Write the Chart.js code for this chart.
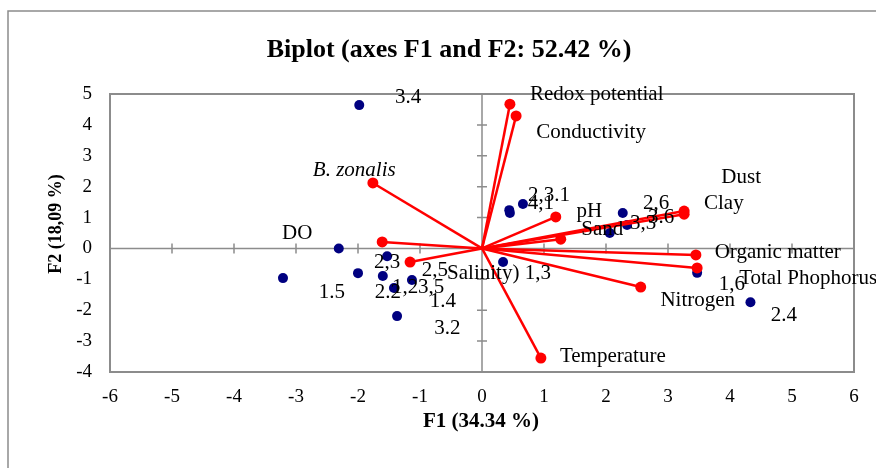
<!DOCTYPE html>
<html>
<head>
<meta charset="utf-8">
<script src="https://cdn.jsdelivr.net/npm/chart.js@4.4.1/dist/chart.umd.min.js"></script>
<style>
  html, body { margin: 0; padding: 0; background: #fff; }
  #wrap { width: 876px; height: 468px; }
</style>
</head>
<body>
<div id="wrap"><canvas id="biplot" width="876" height="468"></canvas></div>
<script>
// observations (blue dots)
const obsX = [-1.98, -2.31, -3.21, -2.00, -1.53, -1.60, -1.42, -1.13, -1.37, 0.34, 0.44, 0.45, 0.66, 2.27, 2.34, 2.06, 3.47, 4.33];
const obsY = [4.64, 0.00, -0.96, -0.80, -0.25, -0.89, -1.28, -1.02, -2.19, -0.44, 1.24, 1.15, 1.44, 1.15, 0.76, 0.50, -0.79, -1.74];

// variables (red vectors from the origin)
const varNames = ['Redox potential', 'Conductivity', 'B. zonalis', 'DO', 'Salinity', 'pH', 'Sand', 'Dust', 'Clay', 'Organic matter', 'Total Phophorus', 'Nitrogen', 'Temperature'];
const varX = [0.45, 0.55, -1.76, -1.61, -1.16, 1.19, 1.27, 3.26, 3.26, 3.45, 3.47, 2.56, 0.95];
const varY = [4.67, 4.29, 2.12, 0.21, -0.44, 1.02, 0.30, 1.21, 1.11, -0.21, -0.63, -1.25, -3.55];

// text labels as they sit on the plot (centre of text, in axis units)
const labelText = ['3.4', '1.5', '2,3', '2.2', '1,2', '3,5', '1.4', '2,5', '3.2', 'Salinity)', '1,3',
  '2,3.1', '4,1', 'pH', '2,6', '3,3', '3.6', 'Sand', 'Redox potential', 'Conductivity', 'Dust', 'Clay',
  'Organic matter', 'Total Phophorus', '1,6', 'Nitrogen', '2.4', 'Temperature', 'B. zonalis', 'DO'];
const labelX = [-1.19, -2.42, -1.53, -1.52, -1.24, -0.82, -0.63, -0.76, -0.56, 0.02, 0.90,
  1.08, 0.95, 1.73, 2.81, 2.60, 2.89, 1.94, 1.85, 1.76, 4.18, 3.90,
  4.77, 5.26, 4.03, 3.48, 4.87, 2.11, -2.06, -2.98];
const labelY = [4.89, -1.41, -0.44, -1.44, -1.25, -1.28, -1.73, -0.70, -2.58, -0.80, -0.80,
  1.73, 1.47, 1.21, 1.47, 0.82, 1.01, 0.60, 4.97, 3.77, 2.31, 1.47,
  -0.12, -0.96, -1.18, -1.67, -2.16, -3.51, 2.54, 0.50];

const xTicks = [-6, -5, -4, -3, -2, -1, 0, 1, 2, 3, 4, 5, 6];
const yTicks = [-4, -3, -2, -1, 0, 1, 2, 3, 4, 5];

const SERIF = "'Liberation Serif', 'Times New Roman', serif";
const GREY = '#8c8c8c';
const RED = '#ff0000';
const NAVY = '#000080';

const vectorSets = varNames.map((name, i) => ({
  type: 'line',
  label: name,
  data: [{ x: 0, y: 0 }, { x: varX[i], y: varY[i] }],
  borderColor: RED,
  backgroundColor: RED,
  borderWidth: 2.5,
  pointRadius: [0, 5.5],
  pointBorderWidth: 0,
  showLine: true,
  order: 0
}));

const biplotDecor = {
  id: 'biplotDecor',
  beforeDraw(chart) {
    const { ctx } = chart;
    ctx.save();
    ctx.strokeStyle = GREY;
    ctx.lineWidth = 1.5;
    ctx.beginPath();
    ctx.moveTo(8, 468);
    ctx.lineTo(8, 11);
    ctx.lineTo(876, 11);
    ctx.stroke();
    ctx.restore();
  },
  beforeDatasetsDraw(chart) {
    const { ctx, chartArea: a, scales: { x, y } } = chart;
    const x0 = x.getPixelForValue(0);
    const y0 = y.getPixelForValue(0);
    ctx.save();
    ctx.strokeStyle = GREY;
    ctx.lineWidth = 2;
    ctx.strokeRect(a.left, a.top, a.right - a.left, a.bottom - a.top);
    ctx.lineWidth = 1.5;
    ctx.beginPath();
    ctx.moveTo(a.left, y0); ctx.lineTo(a.right, y0);
    ctx.moveTo(x0, a.top); ctx.lineTo(x0, a.bottom);
    xTicks.forEach(v => {
      const px = x.getPixelForValue(v);
      ctx.moveTo(px, y0 - 5); ctx.lineTo(px, y0 + 5);
    });
    yTicks.forEach(v => {
      const py = y.getPixelForValue(v);
      ctx.moveTo(x0 - 5, py); ctx.lineTo(x0 + 5, py);
    });
    ctx.stroke();
    ctx.restore();
  },
  afterDatasetsDraw(chart) {
    const { ctx, scales: { x, y } } = chart;
    ctx.save();
    ctx.fillStyle = '#000';
    ctx.textAlign = 'center';
    ctx.textBaseline = 'middle';
    labelText.forEach((t, i) => {
      ctx.font = (t === 'B. zonalis' ? 'italic ' : '') + '21px ' + SERIF;
      ctx.fillText(t, x.getPixelForValue(labelX[i]), y.getPixelForValue(labelY[i]));
    });
    ctx.restore();
  },
  afterDraw(chart) {
    const { ctx } = chart;
    ctx.save();
    ctx.fillStyle = '#000';
    ctx.textAlign = 'center';
    ctx.textBaseline = 'middle';
    ctx.font = 'bold 26px ' + SERIF;
    ctx.fillText('Biplot (axes F1 and F2: 52.42 %)', 449, 50);
    ctx.font = 'bold 21px ' + SERIF;
    ctx.fillText('F1 (34.34 %)', 481, 422);
    ctx.translate(56, 224);
    ctx.rotate(-Math.PI / 2);
    ctx.font = 'bold 18px ' + SERIF;
    ctx.fillText('F2 (18,09 %)', 0, 0);
    ctx.restore();
  }
};

new Chart(document.getElementById('biplot'), {
  type: 'scatter',
  data: {
    datasets: [
      ...vectorSets,
      {
        label: 'Observations',
        data: obsX.map((v, i) => ({ x: v, y: obsY[i] })),
        backgroundColor: NAVY,
        borderColor: NAVY,
        pointRadius: 5,
        pointBorderWidth: 0,
        order: 1
      }
    ]
  },
  options: {
    responsive: false,
    animation: false,
    layout: { padding: { top: 94, right: 22, left: 0, bottom: 0 } },
    plugins: {
      legend: { display: false },
      tooltip: { enabled: false },
      title: { display: false }
    },
    scales: {
      x: {
        type: 'linear',
        min: -6,
        max: 6,
        afterBuildTicks: s => { s.ticks = xTicks.map(v => ({ value: v })); },
        afterFit: s => { s.height = 96; },
        grid: { display: false, drawTicks: false },
        border: { display: false },
        ticks: { color: '#000', padding: 14, font: { family: SERIF, size: 19 } }
      },
      y: {
        type: 'linear',
        min: -4,
        max: 5,
        afterBuildTicks: s => { s.ticks = yTicks.map(v => ({ value: v })); },
        afterFit: s => { s.width = 110; },
        grid: { display: false, drawTicks: false },
        border: { display: false },
        ticks: { color: '#000', padding: 18, font: { family: SERIF, size: 19 } }
      }
    }
  },
  plugins: [biplotDecor]
});
</script>
</body>
</html>
